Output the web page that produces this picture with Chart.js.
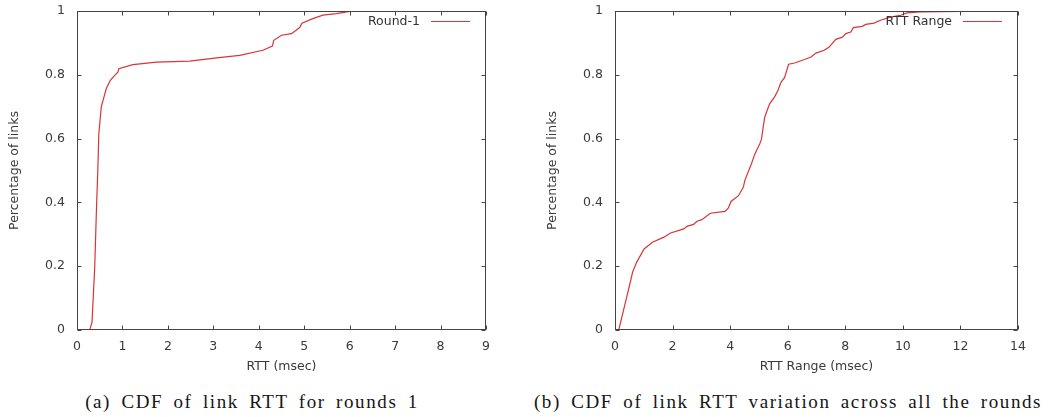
<!DOCTYPE html>
<html>
<head>
<meta charset="utf-8">
<title>CDF of link RTT</title>
<script src="https://cdn.jsdelivr.net/npm/chart.js"></script>
<style>
  body { margin: 0; background: #fff; width: 1056px; height: 417px; position: relative; overflow: hidden; }
  .panel { position: absolute; top: 0; }
  .caption {
    position: absolute; top: 391px; white-space: nowrap;
    font-family: "Liberation Serif", serif; font-size: 19px; color: #151515;
    letter-spacing: 1.6px; word-spacing: 4px;
    transform: translateX(-50%);
  }
</style>
</head>
<body>
<div class="panel" style="left:0px"><canvas id="rttChart" width="528" height="380"></canvas></div>
<div class="panel" style="left:538px"><canvas id="rangeChart" width="518" height="380"></canvas></div>
<div class="caption" style="left:252px">(a) CDF of link RTT for rounds 1</div>
<div class="caption" style="left:788px">(b) CDF of link RTT variation across all the rounds</div>

<script>
// Round-1 RTT CDF (msec, fraction of links)
const rttX = [0.28, 0.33, 0.39, 0.425, 0.46, 0.48, 0.535, 0.645, 0.73, 0.83, 0.90, 0.92,
  1.23, 1.75, 2.48, 3.07, 3.58, 4.09, 4.30, 4.33, 4.50, 4.72, 4.90, 4.95, 5.19, 5.41, 5.71, 6.0, 6.4];
const rttY = [0, 0.024, 0.197, 0.364, 0.51, 0.615, 0.70, 0.757, 0.782, 0.798, 0.808, 0.819,
  0.832, 0.84, 0.843, 0.853, 0.861, 0.877, 0.89, 0.908, 0.924, 0.929, 0.948, 0.962, 0.976, 0.987, 0.992, 0.999, 1.0];

// RTT range CDF across all rounds
const rangeX = [0.13, 0.32, 0.49, 0.61, 0.75, 1.01, 1.30, 1.70, 1.93, 2.39, 2.50, 2.73, 2.85, 3.02,
  3.31, 3.82, 3.94, 4.03, 4.29, 4.46, 4.51, 4.74, 4.86, 5.03, 5.09, 5.20, 5.37, 5.54, 5.66, 5.77,
  5.89, 6.03, 6.24, 6.58, 6.81, 6.98, 7.27, 7.44, 7.67, 7.90, 8.02, 8.19, 8.28, 8.59, 8.71, 9.0,
  9.22, 9.57, 9.91, 10.14, 10.60, 11.98, 13.36];
const rangeY = [0, 0.071, 0.134, 0.181, 0.212, 0.254, 0.275, 0.291, 0.304, 0.317, 0.325, 0.331, 0.341, 0.346,
  0.366, 0.372, 0.383, 0.403, 0.421, 0.448, 0.469, 0.521, 0.552, 0.584, 0.599, 0.667, 0.709, 0.730, 0.751, 0.777,
  0.791, 0.833, 0.837, 0.848, 0.856, 0.868, 0.877, 0.887, 0.911, 0.918, 0.929, 0.934, 0.948, 0.952, 0.958, 0.962,
  0.971, 0.981, 0.986, 0.994, 0.997, 0.999, 1.0];

const yTicks = [0, 0.2, 0.4, 0.6, 0.8, 1];

const LINE_COLOR = "#d93535";
const AXIS_COLOR = "#444444";

Chart.defaults.font.family = "DejaVu Sans";
Chart.defaults.font.size = 12.5;
Chart.defaults.color = "#3a3a3a";

// gnuplot style box with inward ticks on all sides, plus a legend inside the plot
const framePlugin = {
  id: "frame",
  afterDatasetsDraw(chart) {
    const { ctx, chartArea: a, scales } = chart;
    const L = Math.round(a.left) + 0.5, R = Math.round(a.right) - 0.5;
    const T = Math.round(a.top) + 0.5, B = Math.round(a.bottom) - 0.5;
    ctx.save();
    ctx.strokeStyle = AXIS_COLOR;
    ctx.lineWidth = 1;
    ctx.strokeRect(L, T, R - L, B - T);
    ctx.beginPath();
    scales.x.ticks.forEach((t) => {
      const px = Math.round(scales.x.getPixelForValue(t.value)) + 0.5;
      ctx.moveTo(px, B); ctx.lineTo(px, B - 4);
      ctx.moveTo(px, T); ctx.lineTo(px, T + 4);
    });
    scales.y.ticks.forEach((t) => {
      const py = Math.round(scales.y.getPixelForValue(t.value)) + 0.5;
      ctx.moveTo(L, py); ctx.lineTo(L + 4, py);
      ctx.moveTo(R, py); ctx.lineTo(R - 4, py);
    });
    ctx.stroke();

    // legend
    const ds = chart.data.datasets[0];
    const ly = Math.round(a.top + 10) + 0.5;
    ctx.fillStyle = "#333";
    ctx.font = "12.5px 'DejaVu Sans'";
    ctx.textAlign = "right";
    ctx.textBaseline = "middle";
    ctx.fillText(ds.label, a.right - 66, ly);
    ctx.strokeStyle = ds.borderColor;
    ctx.beginPath();
    ctx.moveTo(a.right - 55, ly);
    ctx.lineTo(a.right - 16, ly);
    ctx.stroke();
    ctx.restore();
  },
};

function makeChart(id, label, xs, ys, xMax, xStep, xTitle, rightPad) {
  const points = xs.map((x, i) => ({ x: x, y: ys[i] }));
  return new Chart(document.getElementById(id), {
    type: "scatter",
    data: {
      datasets: [{
        label: label,
        data: points,
        showLine: true,
        borderColor: LINE_COLOR,
        borderWidth: 1.2,
        pointRadius: 0,
        tension: 0,
      }],
    },
    options: {
      responsive: false,
      animation: false,
      layout: { padding: { top: 11, right: rightPad, bottom: 0, left: 0 } },
      plugins: { legend: { display: false }, tooltip: { enabled: false } },
      scales: {
        x: {
          type: "linear",
          min: 0,
          max: xMax,
          afterFit: (s) => { s.height = 50; s.paddingLeft = 0; s.paddingRight = 0; },
          grid: { display: false, drawTicks: false },
          border: { display: false },
          ticks: { stepSize: xStep, padding: 9 },
          title: { display: true, text: xTitle, padding: { top: 0, bottom: 6 } },
        },
        y: {
          type: "linear",
          min: 0,
          max: 1,
          afterFit: (s) => { s.width = 77; s.paddingTop = 0; s.paddingBottom = 0; },
          afterBuildTicks: (s) => { s.ticks = yTicks.map((v) => ({ value: v })); },
          grid: { display: false, drawTicks: false },
          border: { display: false },
          ticks: { padding: 12, callback: (v) => String(+v.toFixed(1)) },
          title: { display: true, text: "Percentage of links", padding: { top: 7, bottom: 0 } },
        },
      },
    },
    plugins: [framePlugin],
  });
}

makeChart("rttChart", "Round-1", rttX, rttY, 9, 1, "RTT (msec)", 42);
makeChart("rangeChart", "RTT Range", rangeX, rangeY, 14, 2, "RTT Range (msec)", 38);
</script>
</body>
</html>
